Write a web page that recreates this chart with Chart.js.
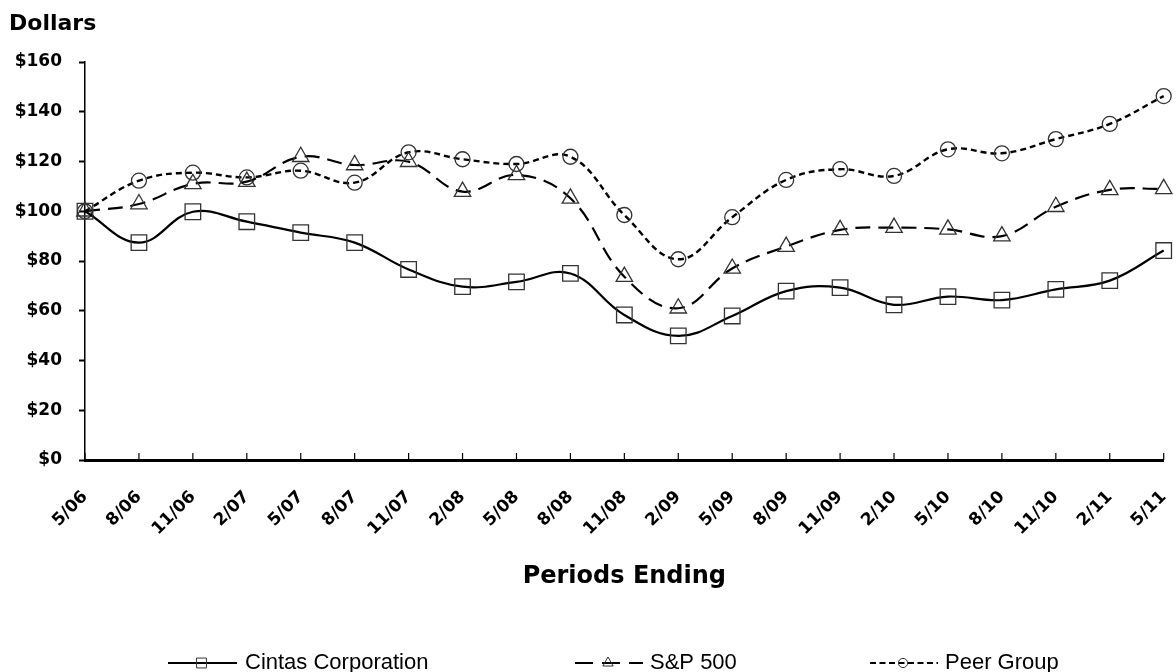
<!DOCTYPE html>
<html>
<head>
<meta charset="utf-8">
<script src="https://cdn.jsdelivr.net/npm/chart.js@4.4.1/dist/chart.umd.min.js"></script>
<style>
  html, body { margin: 0; padding: 0; background: #fff; }
  #wrap { position: relative; width: 1176px; height: 672px; }
</style>
</head>
<body>
<div id="wrap"><canvas id="c" width="1176" height="672"></canvas></div>
<script>
const categories = ["5/06","8/06","11/06","2/07","5/07","8/07","11/07","2/08","5/08","8/08","11/08","2/09","5/09","8/09","11/09","2/10","5/10","8/10","11/10","2/11","5/11"];
const cintas = [100, 87.4, 99.8, 95.8, 91.4, 87.4, 76.6, 69.7, 71.6, 75.0, 58.3, 49.9, 57.9, 67.9, 69.3, 62.4, 65.7, 64.3, 68.6, 72.1, 84.2];
const sp500  = [100, 102.9, 111.0, 111.9, 121.9, 118.6, 119.9, 107.9, 114.6, 105.2, 73.7, 61.0, 77.0, 85.8, 92.5, 93.4, 92.7, 90.0, 101.8, 108.6, 109.0];
const peer   = [100, 112.3, 115.5, 113.6, 116.3, 111.5, 123.7, 120.9, 119.0, 121.9, 98.5, 80.7, 97.6, 112.6, 116.9, 114.2, 124.9, 123.3, 129.0, 135.1, 146.3];
const seriesNames = ["Cintas Corporation", "S&P 500", "Peer Group"];
const yTicks = [0, 20, 40, 60, 80, 100, 120, 140, 160];

const BOLD = '"DejaVu Sans", sans-serif';

const extras = {
  id: 'extras',
  afterDraw(chart) {
    const ctx = chart.ctx;
    const xs = chart.scales.x;
    const area = chart.chartArea;
    ctx.save();
    // inward tick marks on x axis
    ctx.strokeStyle = '#000';
    ctx.lineWidth = 1.2;
    xs.ticks.forEach((t, i) => {
      const x = xs.getPixelForTick(i);
      ctx.beginPath();
      ctx.moveTo(x, area.bottom);
      ctx.lineTo(x, area.bottom - 7);
      ctx.stroke();
    });
    // titles
    ctx.fillStyle = '#000';
    ctx.font = 'bold 22px ' + BOLD;
    ctx.textAlign = 'left';
    ctx.textBaseline = 'middle';
    ctx.fillText('Dollars', 9, 24);
    ctx.font = 'bold 24px ' + BOLD;
    ctx.textAlign = 'center';
    ctx.textBaseline = 'alphabetic';
    ctx.fillText('Periods Ending', (area.left + area.right) / 2, 583);
    // legend
    const items = [
      { x0: 168, x1: 237, tx: 245, r: 7, dash: [] },
      { x0: 575, x1: 643, tx: 650, r: 6, dash: [18, 9] },
      { x0: 870, x1: 938, tx: 945, r: 4.6, dash: [6, 3.5] }
    ];
    const ly = 663;
    chart.data.datasets.forEach((ds, i) => {
      const it = items[i];
      ctx.save();
      ctx.strokeStyle = '#000';
      ctx.lineWidth = 2;
      ctx.setLineDash(it.dash);
      ctx.beginPath();
      ctx.moveTo(it.x0, ly);
      ctx.lineTo(it.x1, ly);
      ctx.stroke();
      ctx.setLineDash([]);
      ctx.strokeStyle = '#333';
      ctx.fillStyle = 'rgba(255,255,255,0)';
      ctx.lineWidth = 1;
      Chart.helpers.drawPoint(ctx, { pointStyle: ds.pointStyle, radius: it.r, borderWidth: 1 }, (it.x0 + it.x1) / 2 - 1, ly);
      ctx.restore();
      ctx.fillStyle = '#000';
      ctx.font = '22px "Liberation Sans", Arial, sans-serif';
      ctx.textAlign = 'left';
      ctx.textBaseline = 'middle';
      ctx.fillText(ds.label, it.tx, ly);
    });
    ctx.restore();
  }
};

new Chart(document.getElementById('c'), {
  type: 'line',
  data: {
    labels: categories,
    datasets: [
      { label: seriesNames[0], data: cintas, borderColor: '#000', borderWidth: 2.2, borderDash: [],
        pointStyle: 'rect', pointRadius: 11, pointBorderColor: '#333', pointBackgroundColor: 'rgba(255,255,255,0)', pointBorderWidth: 1.3, tension: 0.4 },
      { label: seriesNames[1], data: sp500, borderColor: '#000', borderWidth: 2.2, borderDash: [15, 8],
        pointStyle: 'triangle', pointRadius: 9.5, pointBorderColor: '#333', pointBackgroundColor: 'rgba(255,255,255,0)', pointBorderWidth: 1.3, tension: 0.4 },
      { label: seriesNames[2], data: peer, borderColor: '#000', borderWidth: 2.4, borderDash: [6, 4],
        pointStyle: 'circle', pointRadius: 7.5, pointBorderColor: '#333', pointBackgroundColor: 'rgba(255,255,255,0)', pointBorderWidth: 1.3, tension: 0.4 }
    ]
  },
  options: {
    responsive: false,
    animation: false,
    devicePixelRatio: 1,
    clip: false,
    layout: { padding: { top: 62, right: 4, left: 0, bottom: 0 } },
    plugins: { legend: { display: false }, tooltip: { enabled: false }, title: { display: false } },
    scales: {
      x: {
        offset: false,
        grid: { display: true, drawOnChartArea: false, drawTicks: false, color: '#000' },
        border: { display: true, width: 3, color: '#000' },
        ticks: { color: '#000', font: { family: BOLD, weight: 'bold', size: 17 }, maxRotation: 45, minRotation: 45, padding: 27, autoSkip: false },
        afterFit(s) { s.height = 212; s.paddingLeft = 0; s.paddingRight = 0; }
      },
      y: {
        min: 0, max: 160,
        afterBuildTicks(s) { s.ticks = yTicks.map(v => ({ value: v })); },
        grid: { display: true, drawOnChartArea: false, drawTicks: true, tickLength: 6, tickWidth: 2, color: '#000' },
        border: { display: true, width: 1.5, color: '#000' },
        ticks: { color: '#000', font: { family: BOLD, weight: 'bold', size: 17 }, padding: 17, callback: v => '$' + v },
        afterFit(s) { s.width = 85; s.paddingTop = 0; s.paddingBottom = 0; }
      }
    }
  },
  plugins: [extras]
});
</script>
</body>
</html>
